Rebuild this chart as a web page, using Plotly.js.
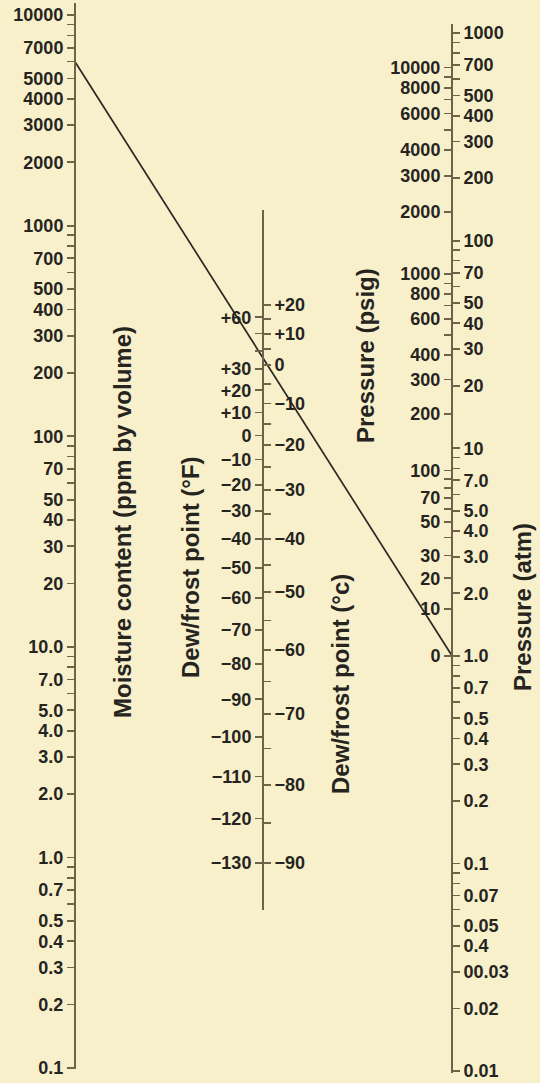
<!DOCTYPE html>
<html>
<head>
<meta charset="utf-8">
<script src="https://cdn.plot.ly/plotly-3.0.1.min.js"></script>
<style>
  html, body { margin: 0; padding: 0; background: #F8F0CB; }
  #chart { width: 540px; height: 1083px; }
</style>
</head>
<body>
<div id="chart"></div>
<script>
// Moisture content scale (ppm by volume), log
const moistureTicks  = [10000, 7000, 5000, 4000, 3000, 2000, 1000, 700, 500, 400, 300, 200,
                        100, 70, 50, 40, 30, 20, 10, 7, 5, 4, 3, 2, 1, 0.7, 0.5, 0.4, 0.3, 0.2, 0.1];
const moistureLabels = ['10000','7000','5000','4000','3000','2000','1000','700','500','400','300','200',
                        '100','70','50','40','30','20','10.0','7.0','5.0','4.0','3.0','2.0',
                        '1.0','0.7','0.5','0.4','0.3','0.2','0.1'];
const moistureMinor  = [9000, 8000, 6000, 900, 800, 600, 90, 80, 60, 9, 8, 6, 0.9, 0.8, 0.6];

// Dew / frost point scales
const dewF      = [60, 30, 20, 10, 0, -10, -20, -30, -40, -50, -60, -70, -80, -90, -100, -110, -120, -130];
const dewFMinor = [50, 40];
const dewC      = [20, 10, 0, -10, -20, -30, -40, -50, -60, -70, -80, -90];
const dewCMinor = [15, 5, -5, -15, -25, -35, -45, -55, -65, -75, -85];

// Pressure scales
const psigTicks = [10000, 8000, 6000, 4000, 3000, 2000, 1000, 800, 600, 400, 300, 200, 100, 70, 50, 30, 20, 10, 0];
const psigMinor = [9000, 7000, 5000, 900, 700, 500, 90, 80, 60, 40];
const atmTicks  = [1000, 700, 500, 400, 300, 200, 100, 70, 50, 40, 30, 20, 10, 7, 5, 4, 3, 2,
                   1, 0.7, 0.5, 0.4, 0.3, 0.2, 0.1, 0.07, 0.05, 0.04, 0.03, 0.02, 0.01];
const atmLabels = ['1000','700','500','400','300','200','100','70','50','40','30','20','10','7.0','5.0','4.0',
                   '3.0','2.0','1.0','0.7','0.5','0.4','0.3','0.2','0.1','0.07','0.05','0.4','00.03','0.02','0.01'];
const atmMinor  = [900, 800, 600, 90, 80, 60, 9, 8, 6, 0.9, 0.8, 0.6, 0.09, 0.08, 0.06];

// Example reading drawn across the nomograph
const exampleMoisture = 6000;   // ppm by volume
const examplePressure = 1.0;    // atm (0 psig)

const titles = {
  moisture: 'Moisture content (ppm by volume)',
  dewF: 'Dew/frost point (°F)',
  dewC: 'Dew/frost point (°c)',
  psig: 'Pressure (psig)',
  atm: 'Pressure (atm)'
};

// ---------------- scale transforms ----------------
// saturation vapour pressure (hPa) over water (T>=0) / ice (T<0)
function vp(tC) {
  return tC >= 0 ? 6.112 * Math.exp(17.62 * tC / (243.12 + tC))
                 : 6.112 * Math.exp(22.46 * tC / (272.62 + tC));
}
const fToC = f => (f - 32) * 5 / 9;
const psigToAtm = p => p / 14.696 + 1;
const signed = v => v > 0 ? '+' + v : (v < 0 ? '\u2212' + (-v) : '0');
const bold = s => '<b>' + s + '</b>';

// ---------------- layout geometry ----------------
const W = 540, H = 1083;
const px = x => x / W;
const py = y => 1 - y / H;
function logRange(v1, y1, v2, y2, top, bottom) {
  const k = (y2 - y1) / (Math.log10(v1) - Math.log10(v2));
  return [Math.log10(v2) - (bottom - y2) / k, Math.log10(v1) + (y1 - top) / k];
}
const AX = { left: 75, mid: 263, right: 452 };
const leftDom  = [py(1069), py(3)];
const leftRng  = logRange(10000, 15, 0.1, 1068, 3, 1069);
const midDom   = [py(910), py(210)];
const midRng   = logRange(vp(0), 365, vp(-90), 863, 210, 910);
const rightDom = [py(1073), py(24)];
const rightRng = logRange(1000, 33, 0.01, 1071, 24, 1073);

const axisColor = '#6F6249';
const textColor = '#26241F';
const bg = '#F8F0CB';
const tickFont = { family: 'Liberation Sans, Arial, sans-serif', size: 18, color: textColor };
const titleFont = { family: 'Liberation Sans, Arial, sans-serif', size: 24, color: textColor };

function yAxis(dom, rng, pos, side, vals, text, minorVals, showline) {
  return {
    type: 'log', domain: dom, range: rng, anchor: 'free', position: pos, side: side,
    showline: showline, linecolor: axisColor, linewidth: 2,
    showgrid: false, zeroline: false, fixedrange: true,
    ticks: 'outside', ticklen: 7, tickwidth: 1.8, tickcolor: axisColor,
    tickmode: 'array', tickvals: vals, ticktext: text.map(bold), tickfont: tickFont,
    ticklabeloverflow: 'allow',
    minor: { tickmode: 'array', tickvals: minorVals, ticks: 'outside', ticklen: 7,
             tickwidth: 1.5, tickcolor: axisColor, showgrid: false }
  };
}

// map a value on the right (atm) axis into the left (ppm) axis coordinate
function atmToLeftAxis(v) {
  const fr = (Math.log10(v) - rightRng[0]) / (rightRng[1] - rightRng[0]);
  const yPaper = rightDom[0] + fr * (rightDom[1] - rightDom[0]);
  const fl = (yPaper - leftDom[0]) / (leftDom[1] - leftDom[0]);
  return Math.pow(10, leftRng[0] + fl * (leftRng[1] - leftRng[0]));
}

const layout = {
  width: W, height: H,
  margin: { l: 0, r: 0, t: 0, b: 0, pad: 0 },
  paper_bgcolor: bg, plot_bgcolor: 'rgba(0,0,0,0)',
  showlegend: false,
  xaxis: { domain: [0, 1], range: [0, 1], visible: false, fixedrange: true },
  yaxis:  yAxis(leftDom, leftRng, px(AX.left), 'left', moistureTicks, moistureLabels, moistureMinor, true),
  yaxis2: yAxis(midDom, midRng, px(AX.mid), 'left', dewF.map(f => vp(fToC(f))), dewF.map(signed),
                dewFMinor.map(f => vp(fToC(f))), true),
  yaxis3: yAxis(midDom, midRng, px(AX.mid), 'right', dewC.map(vp), dewC.map(signed),
                dewCMinor.map(vp), false),
  yaxis4: yAxis(rightDom, rightRng, px(AX.right), 'left', psigTicks.map(psigToAtm), psigTicks.map(String),
                psigMinor.map(psigToAtm), true),
  yaxis5: yAxis(rightDom, rightRng, px(AX.right), 'right', atmTicks, atmLabels, atmMinor, false),
  annotations: [
    { text: titles.moisture, x: px(122), y: py(522) },
    { text: titles.dewF, x: px(190), y: py(567) },
    { text: titles.dewC, x: px(340), y: py(684) },
    { text: titles.psig, x: px(366), y: py(356) },
    { text: titles.atm, x: px(522), y: py(607) }
  ].map(a => Object.assign({ xref: 'paper', yref: 'paper', textangle: -90, showarrow: false,
                             xanchor: 'center', yanchor: 'middle', font: titleFont }, a, { text: bold(a.text) }))
};

const anchorTrace = (ax, v) => ({ x: [0.5], y: [v], xaxis: 'x', yaxis: ax, mode: 'markers',
  marker: { opacity: 0, size: 1 }, hoverinfo: 'skip', showlegend: false });

const data = [
  anchorTrace('y2', vp(0)), anchorTrace('y3', vp(0)),
  anchorTrace('y4', 1), anchorTrace('y5', 1),
  {
    x: [layout.yaxis.position, layout.yaxis4.position],
    y: [exampleMoisture, atmToLeftAxis(examplePressure)],
    xaxis: 'x', yaxis: 'y', mode: 'lines',
    line: { color: '#2A2824', width: 1.7 }, hoverinfo: 'skip', showlegend: false
  }
];

Plotly.newPlot('chart', data, layout, { staticPlot: true, displayModeBar: false });
</script>
</body>
</html>
